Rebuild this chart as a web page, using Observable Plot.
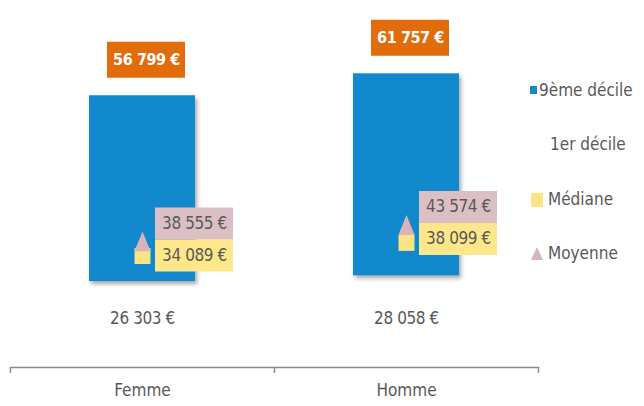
<!DOCTYPE html>
<html>
<head>
<meta charset="utf-8">
<script src="https://cdn.jsdelivr.net/npm/d3@7"></script>
<script src="https://cdn.jsdelivr.net/npm/@observablehq/plot@0.6"></script>
<style>
  html, body { margin: 0; padding: 0; background: #fff; }
  #wrap { position: relative; width: 644px; height: 406px; overflow: hidden; }
  #wrap svg { position: absolute; left: 0; top: 0; }
  g[aria-label="rect"] rect { filter: drop-shadow(2px 3px 2px rgba(0,0,0,0.35)); }
  g.num text { letter-spacing: -0.4px; }
  .lg { position: absolute; font-family: "DejaVu Sans Condensed", "Liberation Sans", sans-serif; font-size: 17px; color: #595959; line-height: 1; white-space: nowrap; }
  .mk { position: absolute; }
</style>
</head>
<body>
<div id="wrap"></div>
<script>
const categories = ["Femme", "Homme"];
const decile1 = [26303, 28058];
const decile9 = [56799, 61757];
const medianes = [34089, 38099];
const moyennes = [38555, 43574];
const series = ["1er décile", "9ème décile"];
const legendLabels = ["9ème décile", "1er décile", "Médiane", "Moyenne"];

const FONT = '"DejaVu Sans Condensed", "Liberation Sans", sans-serif';
const BLUE = "#1288cd", ORANGE = "#e26b0a", PINK = "#dbbfc5", PINK_MK = "#d6b4ba", YELLOW = "#fde78a", YELLOW_MK = "#fce383", GREY = "#595959";

const loc = d3.formatLocale({decimal: ",", thousands: "\u00a0", grouping: [3], currency: ["", "\u00a0€"]});
const fmt = v => loc.format(",")(v) + "\u00a0€";

const idx = d3.range(categories.length);
const stacked = [];
idx.forEach(i => {
  stacked.push({i, serie: series[0], value: decile1[i]});
  stacked.push({i, serie: series[1], value: decile9[i]});
});
const tops = idx.map(i => decile1[i] + decile9[i]);

const tallTriangle = {
  draw(context, size) {
    const r = Math.sqrt(size / Math.PI);
    const w = 0.9 * r, h = 1.1 * r;
    context.moveTo(0, -h);
    context.lineTo(w, h);
    context.lineTo(-w, h);
    context.closePath();
  }
};

const numText = (opts) => Plot.text(idx, {fontFamily: FONT, fontSize: 17, fill: GREY, className: "num", ...opts});

const chart = Plot.plot({
  width: 644,
  height: 406,
  marginLeft: 10,
  marginRight: 106,
  marginTop: 40,
  marginBottom: 39,
  style: {fontFamily: FONT, background: "transparent"},
  x: {domain: [0, categories.length], axis: null, label: null},
  y: {domain: [0, 100000], axis: null, label: null},
  color: {domain: series, range: ["transparent", BLUE]},
  marks: [
    Plot.frame({anchor: "bottom", stroke: "#8c8c8c", strokeWidth: 1.5}),
    Plot.axisX(d3.range(categories.length + 1), {tickSize: 6, tickFormat: () => "", label: null, stroke: "#8c8c8c", strokeWidth: 1.5}),
    Plot.rectY(stacked, {x1: "i", x2: d => d.i + 1, y: "value", fill: "serie", insetLeft: 79, insetRight: 79, order: null}),
    // 9ème décile labels
    Plot.ruleY(idx, {x1: i => i, x2: i => i + 1, y: i => tops[i], dy: -36, stroke: ORANGE, strokeWidth: 36, insetLeft: 97, insetRight: 89}),
    numText({x: i => i + 0.5, y: i => tops[i], dy: -36, dx: 4, text: i => fmt(decile9[i]), fill: "white", fontWeight: "bold", fontSize: 16}),
    // mean / median label boxes
    Plot.ruleY(idx, {x1: i => i, x2: i => i + 1, y: i => moyennes[i], dy: -18, stroke: PINK, strokeWidth: 32, insetLeft: 145, insetRight: 41}),
    Plot.ruleY(idx, {x1: i => i, x2: i => i + 1, y: i => moyennes[i], dy: 14, stroke: YELLOW, strokeWidth: 32, insetLeft: 145, insetRight: 41}),
    numText({x: i => i + 0.5, y: i => moyennes[i], dy: -18, dx: 52, text: i => fmt(moyennes[i])}),
    numText({x: i => i + 0.5, y: i => moyennes[i], dy: 14, dx: 52, text: i => fmt(medianes[i])}),
    // markers
    Plot.dot(idx, {x: i => i + 0.5, y: i => medianes[i], symbol: "square", r: 9, fill: YELLOW_MK}),
    Plot.dot(idx, {x: i => i + 0.5, y: i => moyennes[i], symbol: tallTriangle, r: 9, fill: PINK_MK}),
    // 1er décile labels
    numText({x: i => i + 0.5, frameAnchor: "bottom", dy: -44, text: i => fmt(decile1[i])}),
    // category labels
    Plot.text(idx, {x: i => i + 0.5, frameAnchor: "bottom", dy: 28, text: i => categories[i], fill: GREY, fontSize: 17, fontFamily: FONT})
  ]
});

const wrap = document.getElementById("wrap");
wrap.appendChild(chart);

// legend
const legendItems = [
  {label: legendLabels[0], marker: `<div class="mk" style="left:530px;top:86px;width:7px;height:8px;background:${BLUE}"></div>`, left: 539, cy: 91},
  {label: legendLabels[1], marker: "", left: 550, cy: 145},
  {label: legendLabels[2], marker: `<div class="mk" style="left:531px;top:193px;width:12px;height:14px;background:${YELLOW_MK}"></div>`, left: 548, cy: 200},
  {label: legendLabels[3], marker: `<svg class="mk" style="left:531px;top:247px" width="12" height="13"><polygon points="6,0 12,13 0,13" fill="${PINK_MK}"/></svg>`, left: 548, cy: 254}
];
legendItems.forEach(it => {
  wrap.insertAdjacentHTML("beforeend", it.marker + `<div class="lg" style="left:${it.left}px;top:${it.cy - 9}px">${it.label}</div>`);
});
</script>
</body>
</html>
